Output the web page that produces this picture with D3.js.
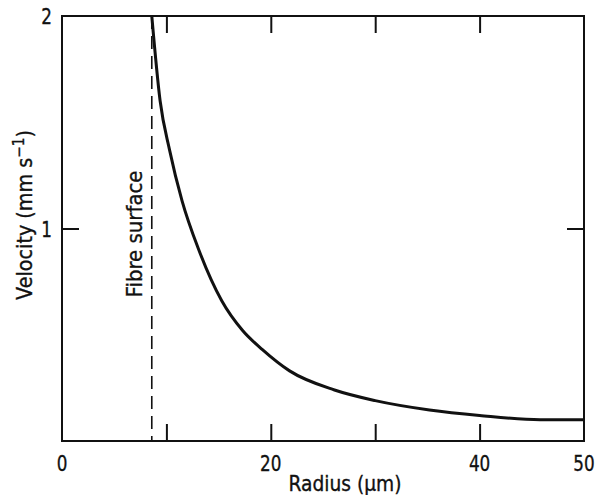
<!DOCTYPE html>
<html>
<head>
<meta charset="utf-8">
<script src="https://cdn.jsdelivr.net/npm/d3@7"></script>
<style>
  html, body { margin: 0; padding: 0; background: #fff; }
  svg { display: block; }
  text { font-family: "DejaVu Sans", sans-serif; fill: #111; stroke: #111; stroke-width: 0.35px; }
</style>
</head>
<body>
<svg id="chart" width="600" height="495"></svg>
<script>
// ---- data ----
const radius   = [8.6, 9.4, 10.3, 11.5, 13.1, 15.3, 17.3, 19.2, 21.8, 26.1, 30.0, 35.2, 40.0, 45.8, 50.0];
const velocity = [2.0, 1.60, 1.37, 1.13, 0.90, 0.66, 0.52, 0.43, 0.33, 0.24, 0.19, 0.146, 0.12, 0.10, 0.10];
const fibreSurface = 8.6;
const xTickValues = [10, 20, 30, 40];
const xTickLabels = [0, 20, 40, 50];
const yTickValues = [1];
const yTickLabels = [1, 2];

// ---- layout ----
const svg = d3.select("#chart");
const margin = { left: 62, right: 16, top: 16, bottom: 54 };
const W = 600, H = 495;
const x = d3.scaleLinear().domain([0, 50]).range([margin.left, W - margin.right]);
const y = d3.scaleLinear().domain([0, 2]).range([H - margin.bottom, margin.top]);

const tickLen = 17;
const FS = 21;        // font size
const SQUEEZE = 0.8;  // condensed look of the original lettering

function condense(sel) {
  sel.each(function () {
    const len = this.getComputedTextLength();
    d3.select(this).attr("textLength", len * SQUEEZE).attr("lengthAdjust", "spacingAndGlyphs");
  });
}
function fitTo(len) {
  return sel => sel.attr("textLength", len).attr("lengthAdjust", "spacingAndGlyphs");
}

// frame
svg.append("rect")
  .attr("x", x(0)).attr("y", y(2))
  .attr("width", x(50) - x(0)).attr("height", y(0) - y(2))
  .attr("fill", "none").attr("stroke", "#111").attr("stroke-width", 2);

// inner ticks via axes
const tickStyle = g => {
  g.select(".domain").remove();
  g.selectAll(".tick line").attr("stroke", "#111").attr("stroke-width", 2);
  g.selectAll(".tick text").remove();
};
svg.append("g").attr("transform", `translate(0,${y(0)})`)
  .call(d3.axisTop(x).tickValues(xTickValues).tickSize(tickLen)).call(tickStyle);
svg.append("g").attr("transform", `translate(0,${y(2)})`)
  .call(d3.axisBottom(x).tickValues(xTickValues).tickSize(tickLen)).call(tickStyle);
svg.append("g").attr("transform", `translate(${x(0)},0)`)
  .call(d3.axisRight(y).tickValues(yTickValues).tickSize(tickLen)).call(tickStyle);
svg.append("g").attr("transform", `translate(${x(50)},0)`)
  .call(d3.axisLeft(y).tickValues(yTickValues).tickSize(tickLen)).call(tickStyle);

// tick labels
svg.append("g").selectAll("text").data(xTickLabels).join("text")
  .attr("x", d => x(d)).attr("y", y(0) + 30)
  .attr("text-anchor", "middle").attr("font-size", FS).text(d => d).call(condense);
svg.append("g").selectAll("text").data(yTickLabels).join("text")
  .attr("x", x(0) - 10).attr("y", d => y(d) + 8)
  .attr("text-anchor", "end").attr("font-size", FS).text(d => d).call(condense);

// axis titles
svg.append("text").attr("x", 345).attr("y", 491)
  .attr("text-anchor", "middle").attr("font-size", FS).text("Radius (µm)").call(fitTo(113));

const yt = svg.append("text")
  .attr("transform", `translate(32,215) rotate(-90)`)
  .attr("text-anchor", "middle").attr("font-size", FS);
yt.append("tspan").text("Velocity (mm s");
yt.append("tspan").attr("dy", -8).attr("font-size", 15).text("−1");
yt.append("tspan").attr("dy", 8).text(")");
yt.call(fitTo(170));

// fibre surface dashed line
svg.append("line")
  .attr("x1", x(fibreSurface)).attr("x2", x(fibreSurface))
  .attr("y1", y(2)).attr("y2", y(0))
  .attr("stroke", "#111").attr("stroke-width", 1.6).attr("stroke-dasharray", "13,7");
svg.append("text")
  .attr("transform", `translate(142,234) rotate(-90)`)
  .attr("text-anchor", "middle").attr("font-size", FS).text("Fibre surface").call(fitTo(127));

// curve
const pts = radius.map((r, i) => [r, velocity[i]]);
svg.append("path").datum(pts)
  .attr("fill", "none").attr("stroke", "#111").attr("stroke-width", 3)
  .attr("d", d3.line().x(d => x(d[0])).y(d => y(d[1])).curve(d3.curveMonotoneX));
</script>
</body>
</html>
